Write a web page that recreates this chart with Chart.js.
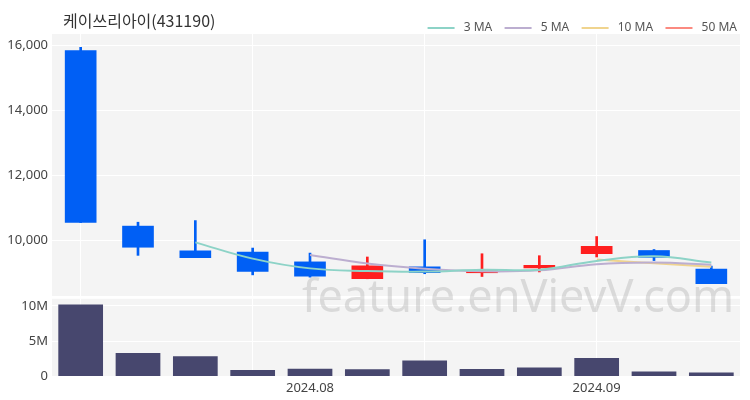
<!DOCTYPE html>
<html>
<head>
<meta charset="utf-8">
<script src="https://cdn.jsdelivr.net/npm/chart.js@4.4.1/dist/chart.umd.min.js"></script>
<style>
  body { margin: 0; background: #fff; }
  #wrap { position: relative; width: 750px; height: 400px; font-family: "Noto Sans CJK KR", "Noto Sans", sans-serif; }
  #title { position: absolute; left: 63px; top: 8px; font-size: 16px; color: #333; }
  #priceBox { position: absolute; left: 0; top: 0; width: 750px; height: 296px; }
  #volBox { position: absolute; left: 0; top: 287px; width: 750px; height: 113px; }
  #mark { position: absolute; left: 302px; top: 272px; font-size: 45px; line-height: 1; color: rgba(165, 165, 165, 0.35);
          font-family: "Noto Sans", sans-serif; pointer-events: none; white-space: nowrap; }
</style>
</head>
<body>
<div id="wrap">
  <div id="volBox"><canvas id="volume" width="750" height="113"></canvas></div>
  <div id="priceBox"><canvas id="price" width="750" height="296"></canvas></div>
  <div id="title">케이쓰리아이(431190)</div>
  <div id="mark">feature.enVievV.com</div>
</div>
<script>
// weekly candles
const dates = ["2024-07-05", "2024-07-12", "2024-07-19", "2024-07-26", "2024-08-02", "2024-08-09",
               "2024-08-16", "2024-08-23", "2024-08-30", "2024-09-06", "2024-09-13", "2024-09-20"];
const xTickLabels = ["", "", "", "", "2024.08", "", "", "", "", "2024.09", "", ""];

const open  = [15850, 10450, 9690, 9650, 9350, 8830, 9200, 9015, 9160, 9600, 9700, 9130];
const close = [10560, 9800, 9480, 9060, 8910, 9230, 9015, 9077, 9240, 9825, 9490, 8680];
const high  = [15950, 10570, 10620, 9775, 9620, 9500, 10030, 9600, 9540, 10130, 9730, 9220];
const low   = [10560, 9550, 9480, 8950, 8880, 8830, 8985, 8900, 9040, 9500, 9390, 8680];

const volume = [10200000, 3300000, 2850000, 920000, 1100000, 1000000, 2250000, 1060000, 1250000, 2600000, 680000, 540000];

const ma3  = [null, null, 9950, 9450, 9150, 9070, 9050, 9110, 9110, 9380, 9520, 9330];
const ma5  = [null, null, null, null, 9560, 9300, 9140, 9060, 9090, 9280, 9330, 9260];
const ma10 = [null, null, null, null, null, null, null, null, null, 9420, 9310, 9200];
const ma50 = [null, null, null, null, null, null, null, null, null, null, null, null];

const priceTicks = [10000, 12000, 14000, 16000];
const volTicks = [0, 5000000, 10000000];

const UP = "#ff1f1f";
const DOWN = "#005ff5";
const candleColors = open.map((o, i) => (close[i] >= o ? UP : DOWN));

// light grey plot background
const plotBg = {
  id: "plotBg",
  beforeDraw(chart) {
    const { ctx, chartArea: a } = chart;
    ctx.save();
    ctx.fillStyle = "#f4f4f4";
    ctx.fillRect(a.left, a.top, a.right - a.left, a.bottom - a.top);
    ctx.restore();
  },
};

const tickFont = { family: "'Noto Sans', sans-serif", size: 13 };
const vGrid = (c) => (c.index % 3 === 0 ? "#ffffff" : "rgba(0,0,0,0)");

function maLine(label, data, color) {
  return {
    type: "line",
    label: label,
    data: data,
    borderColor: color,
    backgroundColor: color,
    borderWidth: 2,
    pointRadius: 0,
    tension: 0.4,
    order: 0,
  };
}

new Chart(document.getElementById("price"), {
  data: {
    labels: dates,
    datasets: [
      {
        type: "bar",
        label: "wick",
        data: dates.map((d, i) => [low[i], high[i]]),
        backgroundColor: candleColors,
        barThickness: 2,
        grouped: false,
        order: 2,
      },
      {
        type: "bar",
        label: "body",
        data: dates.map((d, i) => [open[i], close[i]]),
        backgroundColor: candleColors,
        barThickness: 31,
        grouped: false,
        order: 1,
      },
      maLine("3 MA", ma3, "#8dd3c7"),
      maLine("5 MA", ma5, "#bcaed0"),
      maLine("10 MA", ma10, "#f0d48e"),
      maLine("50 MA", ma50, "#fb8a80"),
    ],
  },
  options: {
    responsive: false,
    animation: false,
    layout: { padding: { top: 19, right: 10 } },
    plugins: {
      tooltip: { enabled: false },
      legend: {
        position: "top",
        align: "end",
        maxHeight: 15,
        labels: {
          boxWidth: 27,
          boxHeight: 2,
          padding: 3,
          color: "#555",
          font: { family: "'Noto Sans', sans-serif", size: 12 },
          generateLabels(chart) {
            const items = Chart.defaults.plugins.legend.labels
              .generateLabels(chart)
              .filter((l) => l.datasetIndex >= 2);
            // spaces widen the gaps around the text
            return items.map((l, i) => ({
              ...l,
              text: " " + l.text + (i < items.length - 1 ? "   " : ""),
              lineWidth: 0,
              fillStyle: l.strokeStyle,
            }));
          },
        },
      },
    },
    scales: {
      x: {
        afterFit: (ax) => { ax.height = 0; },
        ticks: { display: false },
        grid: { color: vGrid, offset: false, drawTicks: false },
        border: { display: false },
      },
      y: {
        min: 8300,
        max: 16360,
        afterBuildTicks: (ax) => { ax.ticks = priceTicks.map((v) => ({ value: v })); },
        afterFit: (ax) => { ax.width = 52; ax.paddingBottom = 0; },
        ticks: { color: "#444", font: tickFont, padding: 4, callback: (v) => v.toLocaleString("en-US") },
        grid: { color: "#ffffff", drawTicks: false },
        border: { display: false },
      },
    },
  },
  plugins: [plotBg],
});

new Chart(document.getElementById("volume"), {
  type: "bar",
  data: {
    labels: dates,
    datasets: [
      {
        label: "Volume",
        data: volume,
        backgroundColor: "#47476e",
        categoryPercentage: 1,
        barPercentage: 0.78,
      },
    ],
  },
  options: {
    responsive: false,
    animation: false,
    layout: { padding: { top: 3, right: 10 } },
    plugins: { legend: { display: false }, tooltip: { enabled: false } },
    scales: {
      x: {
        ticks: { color: "#444", font: tickFont, autoSkip: false, maxRotation: 0, padding: 4, callback: (v, i) => xTickLabels[i] },
        grid: { color: vGrid, offset: false, drawTicks: false },
        border: { display: false },
      },
      y: {
        min: 0,
        max: 11000000,
        afterBuildTicks: (ax) => { ax.ticks = volTicks.map((v) => ({ value: v })); },
        afterFit: (ax) => { ax.width = 52; },
        ticks: { color: "#444", font: tickFont, padding: 4, callback: (v) => (v === 0 ? "0" : v / 1000000 + "M") },
        grid: { color: "#ffffff", drawTicks: false },
        border: { display: false },
      },
    },
  },
  plugins: [plotBg],
});
</script>
</body>
</html>
